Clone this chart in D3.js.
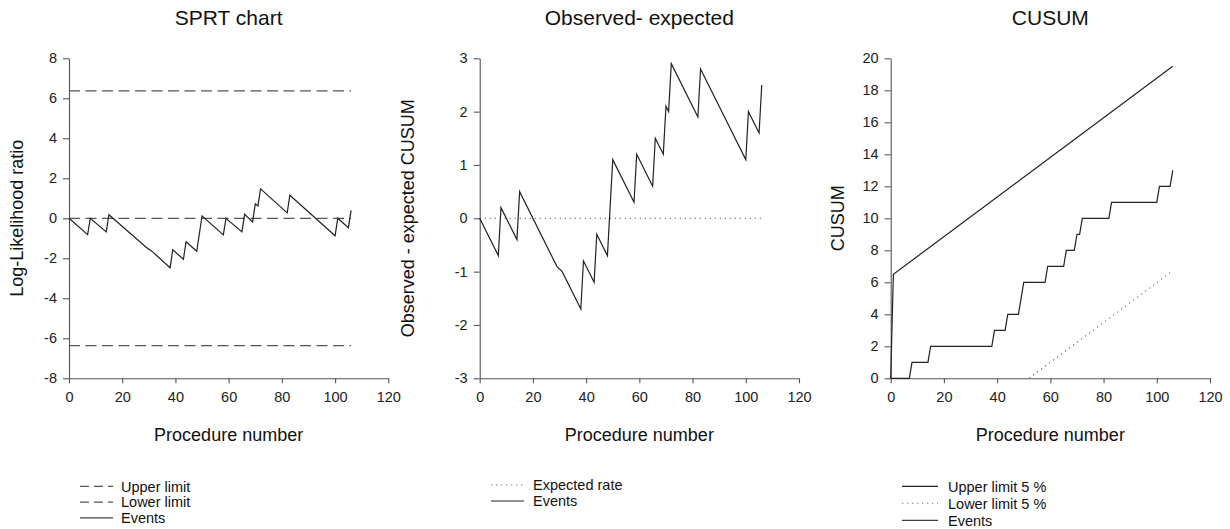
<!DOCTYPE html>
<html>
<head>
<meta charset="utf-8">
<script src="https://cdn.jsdelivr.net/npm/d3@7"></script>
<style>
  html, body { margin: 0; padding: 0; background: #fff; }
  svg { display: block; font-family: "Liberation Sans", Arial, Helvetica, sans-serif; }
  .axis path, .axis line { stroke: #555; stroke-width: 1.1; }
  .axis text { fill: #222; font-size: 14.5px; }
</style>
</head>
<body>
<svg id="chart" width="1230" height="529"></svg>
<script>
// ---- SPRT chart: log-likelihood ratio by procedure ----
const sprtProc  = [0, 7, 8, 14, 15, 29, 31, 38, 39, 43, 44, 48, 50, 58, 59, 65, 66, 69, 70, 71, 72, 82, 83, 100, 101, 105, 106];
const sprtValue = [0, -0.82, 0, -0.68, 0.18, -1.45, -1.63, -2.47, -1.57, -2.05, -1.17, -1.65, 0.12, -0.83, 0, -0.68, 0.2, -0.18, 0.72, 0.62, 1.47, 0.27, 1.15, -0.87, 0, -0.47, 0.4];
const sprtUpper = 6.37;
const sprtLower = -6.37;
const sprtTicks = [-8, -6, -4, -2, 0, 2, 4, 6, 8];

// ---- Observed - expected CUSUM ----
const oeProc  = [0, 7, 8, 14, 15, 29, 31, 38, 39, 43, 44, 48, 50, 58, 59, 65, 66, 69, 70, 71, 72, 82, 83, 100, 101, 105, 106];
const oeValue = [0, -0.7, 0.2, -0.4, 0.5, -0.9, -1.0, -1.7, -0.8, -1.2, -0.3, -0.7, 1.1, 0.3, 1.2, 0.6, 1.5, 1.2, 2.1, 2.0, 2.9, 1.9, 2.8, 1.1, 2.0, 1.6, 2.5];
const oeExpected = 0;
const oeTicks = [-3, -2, -1, 0, 1, 2, 3];

// ---- CUSUM with 5 % limits ----
const cusumProc  = [0, 7, 8, 14, 15, 38, 39, 43, 44, 48, 50, 58, 59, 65, 66, 69, 70, 71, 72, 82, 83, 100, 101, 105, 106];
const cusumValue = [0, 0, 1, 1, 2, 2, 3, 3, 4, 4, 6, 6, 7, 7, 8, 8, 9, 9, 10, 10, 11, 11, 12, 12, 13];
const upperProc  = [0, 1, 106];
const upperValue = [0, 6.5, 19.5];
const lowerProc  = [52, 105];
const lowerValue = [0, 6.6];
const cusumTicks = [0, 2, 4, 6, 8, 10, 12, 14, 16, 18, 20];

const procTicks = [0, 20, 40, 60, 80, 100, 120];
const lastProc = 106;

const svg = d3.select("#chart");
const plotTop = 58.3, plotBottom = 378.3;
const plain = d => String(d);   // "-8" with an ASCII hyphen, no decimals

function zip(xs, ys) { return xs.map((x, i) => [x, ys[i]]); }

function panel(opt) {
  const x = d3.scaleLinear().domain([0, 120]).range([opt.left, opt.left + 319.3]);
  const y = d3.scaleLinear().domain(opt.yDomain).range([plotBottom, plotTop]);
  const g = svg.append("g");

  g.append("g").attr("class", "axis")
    .attr("transform", `translate(0,${plotBottom})`)
    .call(d3.axisBottom(x).tickValues(procTicks).tickFormat(plain)
      .tickSize(5).tickSizeOuter(0).tickPadding(8));
  g.append("g").attr("class", "axis")
    .attr("transform", `translate(${opt.left},0)`)
    .call(d3.axisLeft(y).tickValues(opt.yTicks).tickFormat(plain)
      .tickSize(6).tickSizeOuter(0).tickPadding(6));

  g.append("text").attr("x", (x(0) + x(120)) / 2).attr("y", 25)
    .attr("text-anchor", "middle").attr("font-size", 21).attr("fill", "#111").text(opt.title);
  g.append("text").attr("x", (x(0) + x(120)) / 2).attr("y", 441)
    .attr("text-anchor", "middle").attr("font-size", 18).attr("fill", "#111").text("Procedure number");
  g.append("text")
    .attr("transform", `translate(${opt.yLabelX},${(plotTop + plotBottom) / 2}) rotate(-90)`)
    .attr("text-anchor", "middle").attr("font-size", 18).attr("fill", "#111").text(opt.yLabel);

  const line = d3.line().x(d => x(d[0])).y(d => y(d[1]));
  opt.series.forEach(s => {
    g.append("path").datum(s.data)
      .attr("d", line).attr("fill", "none")
      .attr("stroke", s.color).attr("stroke-width", s.width)
      .attr("stroke-dasharray", s.dash || null);
  });

  const lg = g.append("g");
  opt.legend.items.forEach((it, i) => {
    const yy = opt.legend.y + i * opt.legend.step;
    lg.append("line").attr("x1", opt.legend.x1).attr("x2", opt.legend.x2)
      .attr("y1", yy).attr("y2", yy)
      .attr("stroke", it.color).attr("stroke-width", it.width)
      .attr("stroke-dasharray", it.dash || null);
    lg.append("text").attr("x", opt.legend.tx).attr("y", yy + 5.3)
      .attr("font-size", 14.5).attr("fill", "#111").text(it.label);
  });
}

const dashed = "11,5.5", dotted = "1.3,3.7";

panel({
  left: 69, yDomain: [-8, 8], yTicks: sprtTicks,
  title: "SPRT chart", yLabel: "Log-Likelihood ratio", yLabelX: 23,
  series: [
    { data: [[0, sprtUpper], [lastProc, sprtUpper]], color: "#555", width: 1.3, dash: dashed },
    { data: [[0, 0], [lastProc, 0]], color: "#555", width: 1.3, dash: dashed },
    { data: [[0, sprtLower], [lastProc, sprtLower]], color: "#555", width: 1.3, dash: dashed },
    { data: zip(sprtProc, sprtValue), color: "#222", width: 1.2 }
  ],
  legend: { x1: 80, x2: 113, tx: 121, y: 486.3, step: 15.8, items: [
    { label: "Upper limit", color: "#555", width: 1.3, dash: "9,5" },
    { label: "Lower limit", color: "#555", width: 1.3, dash: "9,5" },
    { label: "Events", color: "#444", width: 1.2 }
  ]}
});

panel({
  left: 479.7, yDomain: [-3, 3], yTicks: oeTicks,
  title: "Observed- expected", yLabel: "Observed - expected CUSUM", yLabelX: 413.5,
  series: [
    { data: [[0, oeExpected], [lastProc, oeExpected]], color: "#666", width: 1.1, dash: dotted },
    { data: zip(oeProc, oeValue), color: "#222", width: 1.2 }
  ],
  legend: { x1: 491, x2: 524, tx: 533, y: 485, step: 16, items: [
    { label: "Expected rate", color: "#777", width: 1.1, dash: dotted },
    { label: "Events", color: "#222", width: 1.2 }
  ]}
});

panel({
  left: 890.7, yDomain: [0, 20], yTicks: cusumTicks,
  title: "CUSUM", yLabel: "CUSUM", yLabelX: 844,
  series: [
    { data: zip(upperProc, upperValue), color: "#222", width: 1.2 },
    { data: zip(lowerProc, lowerValue), color: "#666", width: 1.1, dash: dotted },
    { data: zip(cusumProc, cusumValue), color: "#222", width: 1.2 }
  ],
  legend: { x1: 902, x2: 938, tx: 948, y: 486.3, step: 17, items: [
    { label: "Upper limit 5 %", color: "#222", width: 1.2 },
    { label: "Lower limit 5 %", color: "#777", width: 1.1, dash: dotted },
    { label: "Events", color: "#444", width: 1.2 }
  ]}
});
</script>
</body>
</html>
